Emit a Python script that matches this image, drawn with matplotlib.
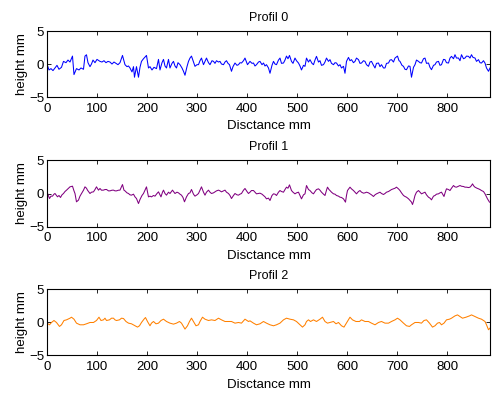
import matplotlib
matplotlib.use("Agg")
import matplotlib.pyplot as plt

# values (distance in mm, height in mm)
dist0 = [0, 4, 8, 12, 16, 20, 24, 29, 33, 38, 42, 46, 51, 54, 59, 64, 68, 73, 76, 79,
         82, 86, 89, 92, 96, 100, 106, 110, 114, 118, 122, 126, 130, 134, 138, 142, 146, 151, 156, 160,
         163, 166, 170, 173, 175, 179, 183, 186, 189, 193, 199, 203, 206, 210, 214, 219, 223, 226, 230, 233,
         236, 239, 243, 246, 250, 253, 256, 259, 262, 266, 270, 273, 276, 280, 283, 286, 289, 293, 296, 300,
         303, 306, 309, 313, 316, 319, 323, 326, 330, 333, 336, 339, 343, 346, 349, 353, 356, 359, 362, 365,
         369, 372, 376, 380, 383, 386, 389, 393, 396, 401, 406, 410, 413, 416, 419, 423, 426, 430, 433, 436,
         439, 443, 446, 450, 453, 456, 459, 463, 466, 469, 473, 476, 479, 482, 485, 489, 492, 496, 499, 503,
         506, 509, 513, 516, 519, 523, 526, 530, 533, 536, 539, 543, 546, 549, 553, 556, 559, 563, 566, 569,
         573, 576, 579, 583, 586, 589, 593, 596, 599, 603, 606, 609, 613, 616, 619, 623, 626, 629, 633, 636,
         639, 643, 646, 649, 653, 656, 659, 663, 666, 669, 673, 676, 679, 683, 686, 689, 693, 696, 701, 704,
         706, 710, 713, 716, 719, 723, 726, 729, 733, 736, 739, 743, 746, 749, 753, 756, 759, 763, 766, 769,
         773, 776, 779, 783, 786, 789, 793, 796, 799, 803, 806, 809, 813, 816, 819, 823, 826, 829, 833, 836,
         839, 843, 846, 849, 852, 856, 859, 863, 866, 869, 873, 876, 879, 883, 886]
height0 = [0.0, -0.9, -0.7, -1.0, -0.6, -0.2, -0.8, -0.5, 0.4, 0.2, 0.6, 0.3, 1.2, -1.6, -0.7, -0.9, -0.6, -0.8, 1.2, 1.4,
           0.2, -0.4, 0.0, 0.6, 0.2, 0.7, 0.4, 0.3, 0.5, 0.2, 0.4, 0.3, 0.0, 0.3, 0.1, -0.1, 0.2, 1.3, -0.1, -0.4,
           -0.3, -0.6, -1.2, -0.4, -2.0, -0.4, -2.0, -0.5, 0.4, 0.8, 1.3, -0.6, -0.4, -0.9, -0.5, -0.7, 0.7, -0.9, 0.2, 0.7,
           -0.3, -0.6, 0.7, -0.6, 0.1, 0.4, -0.3, -0.6, 0.2, -0.1, -0.6, -1.1, -1.7, -0.4, 0.4, 0.9, 1.2, 0.3, -0.35, -0.1,
           -0.1, 0.5, 0.9, -0.1, 0.4, 0.9, 0.2, -0.1, 0.5, 0.4, 0.1, 0.5, 0.3, 0.4, 0.0, -0.1, 0.3, 0.5, 0.1, -0.1,
           -1.1, -0.4, 0.15, -0.2, -0.1, 0.2, 0.15, 0.5, 0.9, -0.1, 0.4, 0.1, 0.15, -0.3, -0.1, 0.3, 0.4, -0.1, 0.15, -0.3,
           -0.1, -0.6, -1.4, -0.2, 0.4, 0.0, -0.1, 0.6, 0.9, 0.1, 0.15, 0.6, 1.2, 0.8, 1.3, 0.4, 0.1, 0.9, 0.5, 0.15,
           -0.3, -0.9, -0.2, -0.35, 0.9, 0.3, 0.66, 0.1, -0.1, 0.6, 1.16, 0.3, 0.5, -0.2, -0.1, 0.3, 0.9, 0.4, 0.66, 0.1,
           -0.1, 0.2, 0.15, -0.3, -0.1, -0.6, -0.35, -1.4, 0.4, 1.0, 0.5, 0.66, 0.2, 0.4, 0.9, 0.66, 0.1, 0.15, 0.5, 0.4,
           -0.1, -0.35, 0.3, 0.4, -0.2, -0.6, 0.1, 0.15, -0.4, -0.1, -0.6, -0.6, 0.1, 0.15, 0.6, 0.66, 0.3, 0.9, 1.2, 0.5,
           0.4, -0.2, -0.35, -0.8, -0.86, -0.3, -0.35, -2.0, -0.5, -0.1, 0.6, 0.4, 0.2, 0.15, 0.8, 0.9, 0.1, 0.15, -0.5, -0.86,
           -0.2, -0.1, 0.3, 0.4, -0.2, -0.1, 0.7, 0.66, 0.2, 0.15, 0.9, 1.16, 0.8, 1.41, 0.9, 0.91, 0.5, 1.41, 0.8, 0.91,
           1.2, 1.16, 0.9, 1.41, 1.0, 0.91, 0.4, 0.66, 0.2, 0.15, 0.5, 0.15, -0.6, -1.1, -0.61]

dist1 = [0, 5, 8, 11, 14, 16, 19, 21, 24, 27, 30, 33, 36, 39, 43, 46, 51, 54, 56, 59,
         63, 66, 69, 73, 76, 79, 81, 84, 86, 89, 93, 96, 99, 103, 106, 109, 113, 116, 119, 123,
         126, 130, 133, 136, 139, 143, 146, 151, 154, 156, 160, 163, 166, 169, 173, 176, 179, 183, 186, 190,
         193, 196, 199, 203, 206, 209, 213, 216, 220, 223, 226, 228, 231, 233, 236, 239, 243, 246, 249, 251,
         254, 256, 260, 263, 266, 269, 272, 275, 279, 283, 286, 289, 293, 296, 300, 303, 306, 309, 313, 316,
         319, 323, 326, 329, 333, 336, 339, 343, 346, 349, 353, 356, 359, 363, 366, 369, 373, 376, 380, 383,
         386, 389, 393, 396, 400, 403, 406, 409, 413, 416, 419, 423, 426, 430, 433, 436, 439, 443, 446, 450,
         453, 456, 459, 463, 466, 469, 473, 476, 479, 482, 485, 489, 492, 496, 499, 503, 506, 509, 513, 516,
         519, 523, 526, 530, 533, 536, 539, 543, 546, 549, 553, 556, 559, 561, 564, 566, 569, 573, 576, 579,
         583, 586, 589, 593, 597, 599, 601, 606, 609, 613, 616, 619, 623, 626, 629, 633, 636, 639, 643, 646,
         649, 653, 656, 659, 663, 666, 669, 673, 676, 679, 683, 686, 689, 693, 696, 699, 703, 706, 709, 713,
         716, 719, 723, 726, 729, 731, 733, 736, 739, 743, 746, 749, 753, 756, 759, 763, 766, 769, 773, 776,
         779, 783, 786, 789, 792, 794, 797, 799, 803, 806, 809, 813, 816, 819, 823, 826, 829, 833, 836, 839,
         843, 846, 849, 851, 854, 856, 860, 863, 866, 869, 873, 876, 879, 881, 885]
height1 = [0.25, -0.76, -0.4, -0.4, -0.1, 0.0, -0.3, -0.5, -0.3, -0.6, -0.2, 0.0, 0.3, 0.5, 0.8, 1.01, 1.11, 0.4, 0.0, -1.26,
           -1.0, -0.4, 0.0, 0.5, 1.01, 0.8, 0.51, 0.2, 0.0, 0.2, 0.25, 0.6, 1.01, 0.51, 0.76, 0.5, 0.51, 0.6, 0.61, 0.4,
           0.4, 0.5, 0.51, 0.4, 0.4, 0.5, 0.51, 1.36, 0.5, 0.4, 0.1, 0.0, -0.2, -0.25, -0.1, -0.51, -0.76, -1.52, -0.91, -0.3,
           0.0, 0.5, 1.01, -0.51, -0.4, -0.51, -0.3, -0.4, 0.0, 0.25, -0.2, -0.51, 0.2, 0.51, 0.0, -0.25, 0.2, 0.0, 0.3, 0.51,
           0.2, 0.0, 0.2, 0.1, -0.1, -0.25, -0.6, -1.26, -0.51, 0.0, 0.1, 0.61, -0.1, -0.4, -0.2, 0.0, 0.5, 1.01, 0.2, -0.25,
           0.2, 0.51, 0.2, 0.0, 0.1, 0.25, 0.4, 0.51, 0.4, 0.25, 0.4, 0.51, 0.2, 0.0, -0.3, -0.76, -0.3, 0.0, -0.2, -0.25,
           -0.1, 0.0, 0.5, 0.76, 0.3, 0.0, 0.2, 0.45, 0.45, 0.2, -0.05, 0.0, 0.05, -0.1, -0.3, -0.5, -0.81, -0.7, -1.06, -0.3,
           -0.05, -0.1, -0.3, 0.2, 0.45, 0.3, 0.2, 0.6, 0.96, 0.8, 1.31, 0.45, 0.2, -0.05, 0.1, 0.2, -0.3, -0.81, -0.2, -0.05,
           1.21, 0.6, 0.45, 0.1, -0.05, 0.3, 0.6, 0.71, 0.5, 0.2, -0.1, -0.3, 0.5, 0.96, 0.6, 0.45, 0.2, -0.05, -0.1, -0.3,
           -0.4, -0.56, -0.6, -0.81, -1.31, -0.3, 0.45, 0.96, 0.7, 0.45, 0.2, -0.05, 0.3, 0.45, 0.2, 0.05, 0.1, 0.2, 0.1, -0.05,
           -0.2, -0.45, -0.2, -0.05, 0.1, 0.2, 0.0, -0.15, 0.0, 0.2, 0.3, 0.45, 0.6, 0.71, 0.8, 0.96, 0.7, 0.45, 0.1, -0.3,
           -0.45, -0.56, -0.8, -1.06, -1.3, -1.67, -1.2, -0.3, 0.2, 0.45, 0.2, -0.05, 0.1, 0.2, -0.2, -0.56, -0.7, -0.96, -0.4, -0.3,
           -0.1, -0.05, 0.1, 0.2, -0.2, -0.45, 0.3, 0.71, 0.6, 0.45, 0.8, 1.21, 1.0, 0.96, 1.1, 1.21, 1.1, 1.06, 0.96, 0.96,
           0.9, 0.96, 1.2, 1.46, 1.1, 0.96, 0.8, 0.71, 0.6, 0.45, 0.3, -0.05, -0.5, -0.81, -1.31]

dist2 = [0, 5, 9, 14, 19, 25, 29, 34, 39, 46, 49, 54, 59, 66, 73, 79, 86, 93, 99, 104,
         108, 113, 116, 119, 125, 129, 133, 136, 139, 145, 149, 153, 158, 163, 169, 176, 181, 185, 189, 194,
         197, 201, 206, 209, 213, 218, 223, 228, 233, 239, 246, 253, 259, 265, 269, 273, 276, 281, 285, 289,
         294, 298, 303, 306, 311, 316, 323, 329, 336, 343, 349, 356, 363, 369, 376, 383, 389, 396, 403, 406,
         413, 419, 426, 433, 439, 446, 453, 459, 466, 473, 479, 486, 493, 499, 506, 511, 516, 519, 523, 527,
         533, 539, 546, 551, 556, 561, 566, 573, 578, 583, 589, 594, 598, 603, 606, 611, 618, 625, 629, 636,
         643, 649, 656, 663, 669, 676, 683, 689, 696, 701, 706, 713, 719, 725, 729, 736, 743, 749, 754, 759,
         765, 771, 776, 781, 785, 789, 794, 799, 805, 809, 816, 821, 826, 831, 838, 845, 849, 856, 863, 869,
         876, 879, 883, 886]
height2 = [-0.1, -0.35, 0.0, 0.3, 0.0, -0.6, -0.35, 0.3, 0.4, 0.65, 0.8, 0.5, -0.1, -0.35, -0.35, -0.2, 0.0, 0.0, 0.3, 0.8,
           0.3, 0.4, 0.65, 0.3, 0.4, 0.65, 0.65, 0.4, 0.3, 0.4, 0.65, 0.6, 0.15, -0.1, -0.2, -0.5, -0.7, -0.5, 0.0, 0.5,
           0.75, 0.15, -0.5, -0.1, 0.15, -0.2, -0.1, 0.3, 0.5, 0.15, -0.1, -0.25, -0.1, 0.15, -0.1, -0.6, -1.0, -0.5, 0.15, 0.65,
           0.0, -0.5, -0.35, 0.15, 0.8, 0.5, 0.3, 0.4, 0.3, 0.65, 0.4, 0.15, 0.15, 0.15, -0.1, 0.0, -0.1, 0.5, 0.15, 0.25,
           -0.1, -0.35, -0.2, 0.15, -0.1, -0.35, -0.5, -0.35, -0.1, 0.4, 0.65, 0.5, 0.4, 0.15, -0.35, -0.7, -0.35, 0.15, 0.4, 0.15,
           0.4, 0.15, 0.5, 0.8, 0.15, -0.1, 0.0, 0.15, -0.2, 0.0, -0.5, -0.7, -0.2, 0.4, 0.8, 0.4, 0.15, 0.15, 0.4, 0.15,
           0.15, -0.1, -0.35, 0.0, 0.15, -0.1, -0.1, 0.15, 0.4, 0.65, 0.4, -0.1, -0.5, -0.6, -0.35, 0.0, 0.0, -0.1, 0.3, 0.4,
           -0.1, -0.7, -0.5, -0.1, 0.0, -0.35, -0.1, 0.4, 0.5, 0.65, 1.0, 1.15, 0.9, 0.65, 0.8, 1.0, 1.15, 0.9, 0.65, 0.5,
           0.15, -0.35, -1.1, -0.85]

profiles = ["Profil 0", "Profil 1", "Profil 2"]
x_ticks = [0, 100, 200, 300, 400, 500, 600, 700, 800]
y_ticks = [-5, 0, 5]

plt.rcParams["font.family"] = ["Liberation Sans", "DejaVu Sans"]
plt.rcParams["font.size"] = 9.5

fig = plt.figure(figsize=(4.93, 3.96), dpi=100)
bottoms = [0.755, 0.428, 0.1023]
colors = ["#0000ff", "#800080", "#ff8000"]
series = [(dist0, height0), (dist1, height1), (dist2, height2)]

for b, name, col, (d, h) in zip(bottoms, profiles, colors, series):
    ax = fig.add_axes([0.0953, b, 0.8986, 0.1667])
    ax.plot(d, h, color=col, linewidth=0.75)
    ax.set_xlim(0, 886)
    ax.set_ylim(-5, 5)
    ax.set_xticks(x_ticks)
    ax.set_yticks(y_ticks)
    ax.tick_params(direction="in", top=True, right=True, length=3, width=0.6)
    ax.tick_params(axis="x", pad=4)
    ax.tick_params(axis="y", pad=2)
    for s in ax.spines.values():
        s.set_linewidth(0.8)
    ax.set_title(name, fontsize=9, pad=7.5)
    ax.set_xlabel("Disctance mm", labelpad=4)
    ax.set_ylabel("height mm", labelpad=1)

fig.savefig("out.png", dpi=100)
